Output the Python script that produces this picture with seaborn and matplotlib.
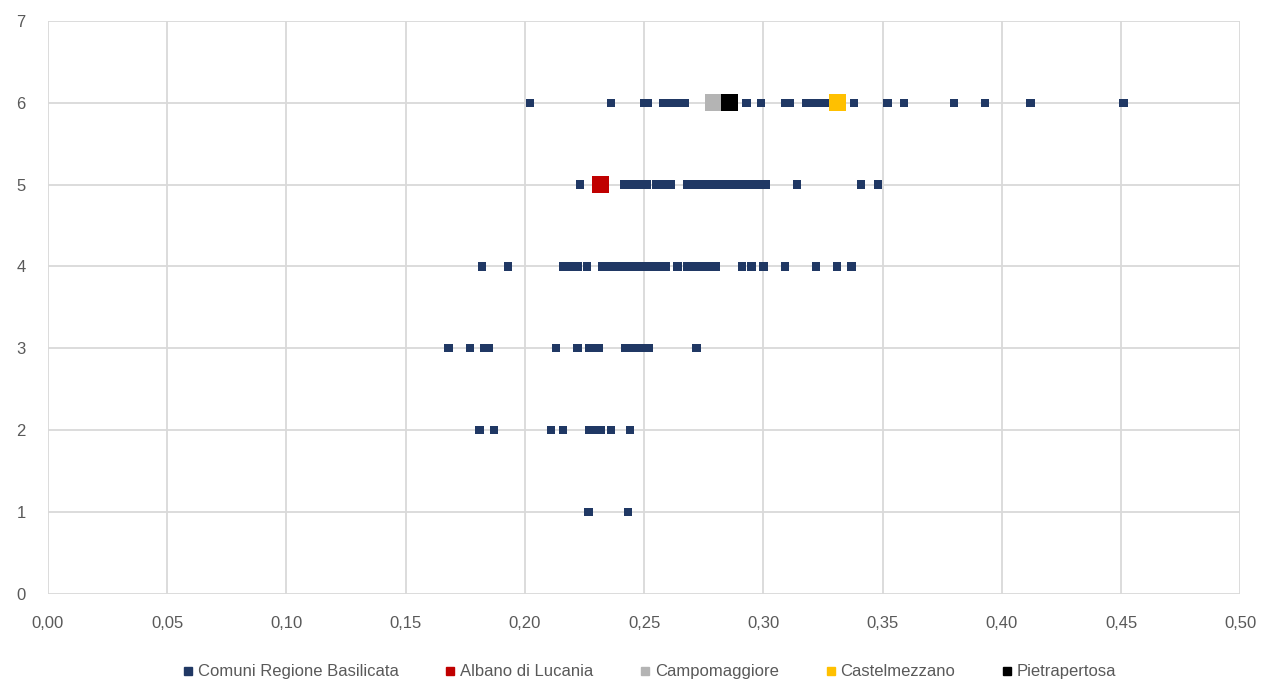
import pandas as pd
import seaborn as sns
import matplotlib.pyplot as plt
from matplotlib.lines import Line2D
from matplotlib.ticker import FuncFormatter, MultipleLocator

# values per row (y level) for the regional municipalities
row1 = [0.2267, 0.2432]
row2 = [0.181, 0.187, 0.211, 0.216, 0.227, 0.229, 0.232, 0.236, 0.244]
row3 = [0.168, 0.177, 0.183, 0.185, 0.213, 0.222, 0.227, 0.229, 0.231,
        0.242, 0.244, 0.246, 0.248, 0.249, 0.252, 0.272]
row4 = [0.182, 0.193, 0.216, 0.219, 0.222, 0.226, 0.2325, 0.236, 0.238,
        0.240, 0.242, 0.244, 0.246, 0.248, 0.250, 0.252, 0.254, 0.256,
        0.259, 0.264, 0.268, 0.271, 0.274, 0.277, 0.280, 0.291, 0.295,
        0.300, 0.309, 0.322, 0.331, 0.337]
row5 = [0.223, 0.2415, 0.245, 0.248, 0.251, 0.255, 0.258, 0.261, 0.268,
        0.271, 0.274, 0.277, 0.280, 0.282, 0.285, 0.288, 0.291, 0.294,
        0.295, 0.298, 0.301, 0.314, 0.341, 0.348]
row6 = [0.202, 0.236, 0.250, 0.2515, 0.258, 0.261, 0.264, 0.267, 0.293,
        0.299, 0.309, 0.311, 0.318, 0.321, 0.324, 0.327, 0.330, 0.338,
        0.352, 0.359, 0.380, 0.393, 0.412, 0.451]

# highlighted municipalities
highlight_names = ["Albano di Lucania", "Campomaggiore", "Castelmezzano", "Pietrapertosa"]
highlight_x = [0.2318, 0.279, 0.3312, 0.2858]
highlight_y = [5, 6, 6, 6]
highlight_colors = ["#C00000", "#B4B4B4", "#FFC000", "#000000"]

base_name = "Comuni Regione Basilicata"
base_color = "#203864"

rows = [row1, row2, row3, row4, row5, row6]
df = pd.DataFrame([(v, i + 1) for i, r in enumerate(rows) for v in r], columns=["x", "y"])
hl = pd.DataFrame({"x": highlight_x, "y": highlight_y, "name": highlight_names})

sns.set_theme(style="white")
plt.rcParams['font.family'] = ['Liberation Sans', 'DejaVu Sans']

fig = plt.figure(figsize=(12.63, 6.97), dpi=100)
ax = fig.add_axes([0.038, 0.148, 0.944, 0.822])

sns.scatterplot(data=df, x="x", y="y", marker="s", s=36, color=base_color,
                edgecolor="none", linewidth=0, ax=ax, legend=False, zorder=3)
sns.scatterplot(data=hl, x="x", y="y", hue="name", hue_order=highlight_names,
                palette=dict(zip(highlight_names, highlight_colors)),
                marker="s", s=155, edgecolor="none", linewidth=0, ax=ax,
                legend=False, zorder=4)

ax.set_xlim(0, 0.5)
ax.set_ylim(0, 7)
ax.xaxis.set_major_locator(MultipleLocator(0.05))
ax.yaxis.set_major_locator(MultipleLocator(1))
ax.xaxis.set_major_formatter(FuncFormatter(lambda v, p: f"{v:.2f}".replace(".", ",")))
ax.yaxis.set_major_formatter(FuncFormatter(lambda v, p: f"{int(round(v))}"))
ax.grid(True, color="#D9D9D9", linewidth=1.3)
for s in ax.spines.values():
    s.set_visible(False)
ax.tick_params(axis="x", length=0, labelsize=12, colors="#595959", pad=16)
ax.tick_params(axis="y", length=0, labelsize=12, colors="#595959", pad=16)
ax.set_xlabel("")
ax.set_ylabel("")

handles = [Line2D([], [], marker="s", linestyle="", color=c, markersize=6)
           for c in [base_color] + highlight_colors]
labels = [base_name] + highlight_names
leg = fig.legend(handles, labels, loc="center", bbox_to_anchor=(0.513, 0.036),
                 ncol=5, frameon=False, fontsize=12, handletextpad=0.1,
                 columnspacing=2.6, handlelength=1.0)
for t in leg.get_texts():
    t.set_color("#595959")

fig.savefig("out.png", dpi=100)
plt.close(fig)
